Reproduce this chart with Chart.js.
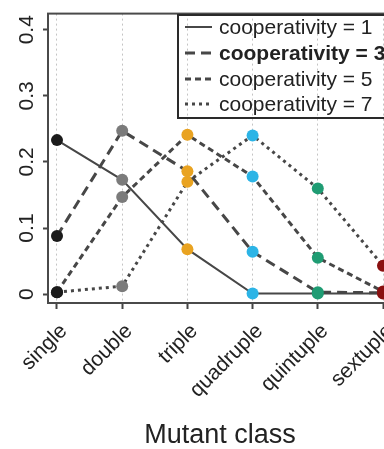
<!DOCTYPE html>
<html>
<head>
<meta charset="utf-8">
<script src="https://cdn.jsdelivr.net/npm/chart.js@4/dist/chart.umd.min.js"></script>
<style>
  html, body { margin: 0; padding: 0; background: #fff; overflow: hidden; }
  #wrap { width: 384px; height: 449px; overflow: hidden; }
</style>
</head>
<body>
<div id="wrap"><canvas id="chart" width="400" height="449"></canvas></div>
<script>
// mutant classes along x
const categories = ['single', 'double', 'triple', 'quadruple', 'quintuple', 'sextuple'];
const pointColors = ['#1b1b1b', '#7b7b7b', '#e9a321', '#2cb4e6', '#1f9c73', '#8a1010'];

// fraction per mutant class, one array per cooperativity
const coop1 = [0.233, 0.173, 0.068, 0.001, 0.001, 0.001];
const coop3 = [0.088, 0.247, 0.186, 0.064, 0.003, 0.002];
const coop5 = [0.003, 0.147, 0.241, 0.178, 0.055, 0.004];
const coop7 = [0.003, 0.012, 0.170, 0.240, 0.160, 0.043];

const seriesLabels = ['cooperativity = 1', 'cooperativity = 3', 'cooperativity = 5', 'cooperativity = 7'];
const yTicks = [0, 0.1, 0.2, 0.3, 0.4];

const FONT = "'Liberation Sans', Arial, Helvetica, sans-serif";
const LINE = '#474747';

function toPoints(values) {
  return values.map((v, i) => ({ x: i, y: v }));
}

function makeSet(label, values, dash, width, bold) {
  return {
    label: label,
    data: toPoints(values),
    borderColor: LINE,
    borderWidth: width,
    borderDash: dash,
    pointBackgroundColor: pointColors,
    pointBorderWidth: 0,
    pointRadius: 6,
    pointHoverRadius: 6,
    tension: 0,
    legendBold: bold
  };
}

// box around the plot area
const framePlugin = {
  id: 'frame',
  beforeDatasetsDraw(chart) {
    const { ctx, chartArea: a } = chart;
    ctx.save();
    ctx.strokeStyle = '#4a4a4a';
    ctx.lineWidth = 2;
    ctx.strokeRect(a.left, a.top, a.right - a.left, a.bottom - a.top);
    ctx.restore();
  }
};

// legend drawn by hand so one entry can be bold
const boxLegend = {
  id: 'boxLegend',
  afterDraw(chart) {
    const ctx = chart.ctx;
    const left = 178, top = 15, rowH = 26;
    ctx.save();
    ctx.strokeStyle = '#2a2a2a';
    ctx.lineWidth = 2;
    ctx.strokeRect(left, top, 300, 103);
    chart.data.datasets.forEach((ds, i) => {
      const y = top + 12 + i * rowH + (i === 3 ? -1 : 0);
      ctx.beginPath();
      ctx.strokeStyle = ds.borderColor;
      ctx.lineWidth = ds.borderWidth;
      ctx.setLineDash(ds.borderDash || []);
      ctx.moveTo(185, y);
      ctx.lineTo(212, y);
      ctx.stroke();
      ctx.setLineDash([]);
      ctx.fillStyle = '#222';
      ctx.font = (ds.legendBold ? 'bold ' : '') + '21px ' + FONT;
      ctx.textBaseline = 'middle';
      ctx.textAlign = 'left';
      ctx.fillText(ds.label, 219, y + 1);
    });
    ctx.restore();
  }
};

new Chart(document.getElementById('chart'), {
  type: 'line',
  data: {
    datasets: [
      makeSet(seriesLabels[0], coop1, [], 2, false),
      makeSet(seriesLabels[1], coop3, [10, 6], 3, true),
      makeSet(seriesLabels[2], coop5, [6, 4], 3, false),
      makeSet(seriesLabels[3], coop7, [3, 4], 3, false)
    ]
  },
  options: {
    responsive: false,
    devicePixelRatio: 1,
    animation: false,
    layout: { padding: { top: 10, right: 8, left: 0, bottom: 0 } },
    plugins: {
      legend: { display: false },
      tooltip: { enabled: false }
    },
    scales: {
      x: {
        type: 'linear',
        min: -0.138,
        max: 5.138,
        afterBuildTicks(scale) {
          scale.ticks = categories.map((c, i) => ({ value: i }));
        },
        afterFit(scale) {
          scale.height = 146;
          scale.paddingLeft = 0;
          scale.paddingRight = 0;
        },
        grid: {
          color: '#c4c4c4',
          lineWidth: 1,
          drawTicks: true,
          tickLength: 6,
          tickColor: '#444',
          tickWidth: 2,
          tickBorderDash: []
        },
        border: { display: false, dash: [2, 3] },
        ticks: {
          autoSkip: false,
          minRotation: 45,
          maxRotation: 45,
          padding: 10,
          labelOffset: 7,
          color: '#222',
          font: { family: FONT, size: 21 },
          callback: (v) => categories[v]
        },
        title: {
          display: true,
          text: 'Mutant class',
          color: '#222',
          font: { family: FONT, size: 27, lineHeight: 1 },
          padding: { top: 0, bottom: 0 }
        }
      },
      y: {
        min: -0.0134,
        max: 0.4244,
        afterBuildTicks(scale) {
          scale.ticks = yTicks.map(v => ({ value: v }));
        },
        afterFit(scale) { scale.width = 48; },
        grid: {
          drawOnChartArea: false,
          drawTicks: true,
          tickLength: 5,
          tickColor: '#444',
          tickWidth: 2
        },
        border: { display: false },
        ticks: {
          minRotation: 90,
          maxRotation: 90,
          crossAlign: 'center',
          padding: 1,
          color: '#222',
          font: { family: FONT, size: 21 },
          callback: (v) => String(v)
        }
      }
    }
  },
  plugins: [framePlugin, boxLegend]
});
</script>
</body>
</html>
